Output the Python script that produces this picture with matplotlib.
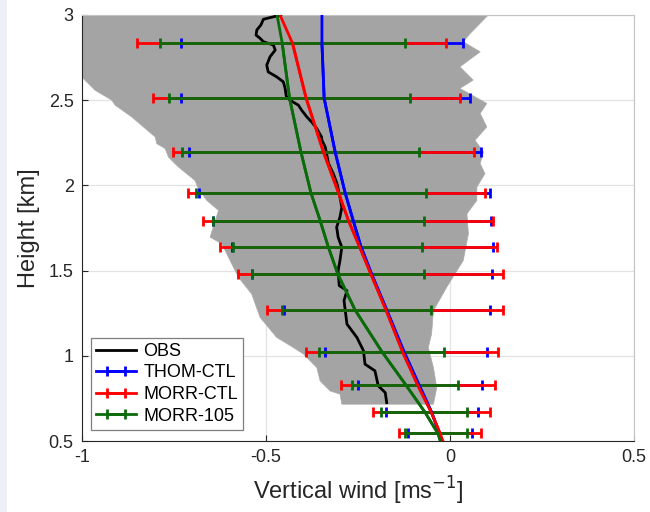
import matplotlib
matplotlib.use("Agg")
import matplotlib.pyplot as plt
from matplotlib.patches import Rectangle

plt.rcParams["font.family"] = ["Liberation Sans", "DejaVu Sans"]
plt.rcParams["axes.unicode_minus"] = False

# Levels where the spread bars are shown [km]
bar_heights = [2.835, 2.512, 2.196, 1.957, 1.794, 1.641, 1.48, 1.269, 1.024, 0.829, 0.669, 0.545]

# Mean profiles: top (3 km), the bar levels, bottom (0.5 km)
curve_heights = [3.0] + bar_heights + [0.5]
thom_mean = [-0.348, -0.348, -0.342, -0.312, -0.285, -0.263, -0.242, -0.213, -0.172, -0.125, -0.084, -0.050, -0.029, -0.024]
morr_mean = [-0.462, -0.428, -0.391, -0.344, -0.303, -0.276, -0.246, -0.215, -0.174, -0.129, -0.088, -0.051, -0.027, -0.019]
m105_mean = [-0.470, -0.456, -0.436, -0.405, -0.378, -0.353, -0.331, -0.305, -0.258, -0.185, -0.120, -0.068, -0.033, -0.027]

# Spread bounds at bar levels
thom_lo = [-0.732, -0.732, -0.710, -0.682, -0.643, -0.593, -0.539, -0.450, -0.340, -0.249, -0.174, -0.113]
thom_hi = [0.034, 0.054, 0.084, 0.109, 0.112, 0.116, 0.115, 0.109, 0.101, 0.088, 0.076, 0.059]
morr_lo = [-0.851, -0.808, -0.754, -0.712, -0.672, -0.625, -0.575, -0.496, -0.392, -0.296, -0.210, -0.138]
morr_hi = [-0.012, 0.028, 0.064, 0.095, 0.116, 0.128, 0.144, 0.144, 0.131, 0.122, 0.109, 0.084]
m105_lo = [-0.788, -0.763, -0.727, -0.691, -0.643, -0.591, -0.539, -0.457, -0.356, -0.267, -0.188, -0.121]
m105_hi = [-0.121, -0.108, -0.085, -0.065, -0.070, -0.075, -0.070, -0.052, -0.017, 0.021, 0.046, 0.046]

# Observed profile
obs_h = [3.0, 2.975, 2.941, 2.912, 2.882, 2.863, 2.843, 2.824, 2.794, 2.755, 2.706, 2.666, 2.637,
         2.608, 2.569, 2.524, 2.5, 2.471, 2.441, 2.402, 2.372, 2.334, 2.284, 2.265, 2.225, 2.128,
         2.069, 2.01, 1.931, 1.872, 1.814, 1.755, 1.696, 1.637, 1.559, 1.5, 1.412, 1.382, 1.324,
         1.186, 1.108, 1.029, 0.951, 0.912, 0.824, 0.784, 0.725]
obs_w = [-0.460, -0.507, -0.514, -0.525, -0.527, -0.516, -0.507, -0.480, -0.475, -0.489, -0.498,
         -0.494, -0.471, -0.453, -0.448, -0.445, -0.435, -0.412, -0.403, -0.389, -0.376, -0.362,
         -0.349, -0.348, -0.339, -0.330, -0.317, -0.307, -0.299, -0.294, -0.299, -0.308, -0.304,
         -0.294, -0.299, -0.304, -0.301, -0.280, -0.288, -0.280, -0.253, -0.235, -0.231, -0.204,
         -0.195, -0.176, -0.172]

# Envelope of the observed profiles
env_left_h = [3.0, 2.66, 2.637, 2.559, 2.5, 2.471, 2.402, 2.284, 2.245, 2.216, 2.166, 2.108, 2.029,
              1.981, 1.912, 1.853, 1.696, 1.657, 1.539, 1.461, 1.363, 1.225, 1.108, 1.049, 1.010,
              0.931, 0.853, 0.794, 0.775, 0.716]
env_left_w = [-1.05, -1.05, -1.001, -0.965, -0.919, -0.910, -0.865, -0.801, -0.797, -0.774, -0.765,
              -0.738, -0.693, -0.684, -0.661, -0.629, -0.652, -0.620, -0.593, -0.575, -0.539, -0.516,
              -0.471, -0.426, -0.398, -0.362, -0.353, -0.326, -0.299, -0.294]
env_right_h = [3.0, 2.892, 2.843, 2.784, 2.696, 2.618, 2.569, 2.481, 2.422, 2.343, 2.265, 2.196, 2.128,
               2.069, 1.990, 1.912, 1.833, 1.716, 1.559, 1.402, 1.265, 1.128, 1.049, 0.931, 0.813, 0.716]
env_right_w = [0.104, 0.055, 0.036, 0.082, 0.027, 0.063, 0.027, 0.100, 0.082, 0.100, 0.068, 0.091,
               0.082, 0.095, 0.073, 0.073, 0.046, 0.050, 0.036, -0.009, -0.045, -0.050, -0.059,
               -0.045, -0.036, -0.045]

xticks = [-1, -0.5, 0, 0.5]
xtick_labels = ["-1", "-0.5", "0", "0.5"]
yticks = [0.5, 1, 1.5, 2, 2.5, 3]
ytick_labels = ["0.5", "1", "1.5", "2", "2.5", "3"]

BLUE = "#0000ff"
RED = "#ff0000"
GREEN = "#0b6b0b"

fig = plt.figure(figsize=(6.5, 5.12), dpi=100)
fig.patches.append(Rectangle((0, 0), 7 / 650, 1, transform=fig.transFigure,
                             facecolor="#eef0f8", edgecolor="none", zorder=0))
ax = fig.add_axes([82 / 650, 71 / 512, 552 / 650, 426 / 512])

ax.fill(env_left_w + env_right_w[::-1], env_left_h + env_right_h[::-1],
        facecolor="#a4a4a4", edgecolor="#acacac", linewidth=0.5, zorder=1)

obs_line, = ax.plot(obs_w, obs_h, color="black", lw=2.0, zorder=3, label="OBS")

handles = [obs_line]
for mean, lo, hi, col, name, z in [
    (thom_mean, thom_lo, thom_hi, BLUE, "THOM-CTL", 4),
    (morr_mean, morr_lo, morr_hi, RED, "MORR-CTL", 5),
    (m105_mean, m105_lo, m105_hi, GREEN, "MORR-105", 6),
]:
    centre = mean[1:-1]
    xerr = [[c - l for c, l in zip(centre, lo)], [h - c for c, h in zip(centre, hi)]]
    eb = ax.errorbar(centre, bar_heights, xerr=xerr, fmt="-", color=col, lw=2.0,
                     ecolor=col, elinewidth=2.0, capsize=3.5, capthick=2.0,
                     zorder=z, label=name)
    ax.plot(mean, curve_heights, color=col, lw=2.0, zorder=7)
    handles.append(eb)

ax.set_xlim(-1, 0.5)
ax.set_ylim(0.5, 3)
ax.set_xticks(xticks)
ax.set_xticklabels(xtick_labels)
ax.set_yticks(yticks)
ax.set_yticklabels(ytick_labels)
ax.grid(True, color="#e3e3e3", lw=0.9)
ax.set_axisbelow(True)
ax.tick_params(direction="in", length=4, labelsize=13, colors="#262626", pad=6)
for side in ("left", "bottom"):
    ax.spines[side].set_color("#262626")
for side in ("top", "right"):
    ax.spines[side].set_color("#c4c4c4")

ax.set_xlabel("Vertical wind [ms$^{-1}$]", fontsize=17, color="#262626", labelpad=6)
ax.set_ylabel("Height [km]", fontsize=17, color="#262626", labelpad=6)

leg = ax.legend(handles=handles, labels=["OBS", "THOM-CTL", "MORR-CTL", "MORR-105"],
                loc="lower left", bbox_to_anchor=(0.016, 0.026), borderaxespad=0,
                fontsize=13, fancybox=False, framealpha=1, edgecolor="#7f7f7f",
                handlelength=2.2, handletextpad=0.4, labelspacing=0.25, borderpad=0.3)
leg.get_frame().set_linewidth(0.9)
leg.set_zorder(10)

fig.savefig("out.png", dpi=100)
